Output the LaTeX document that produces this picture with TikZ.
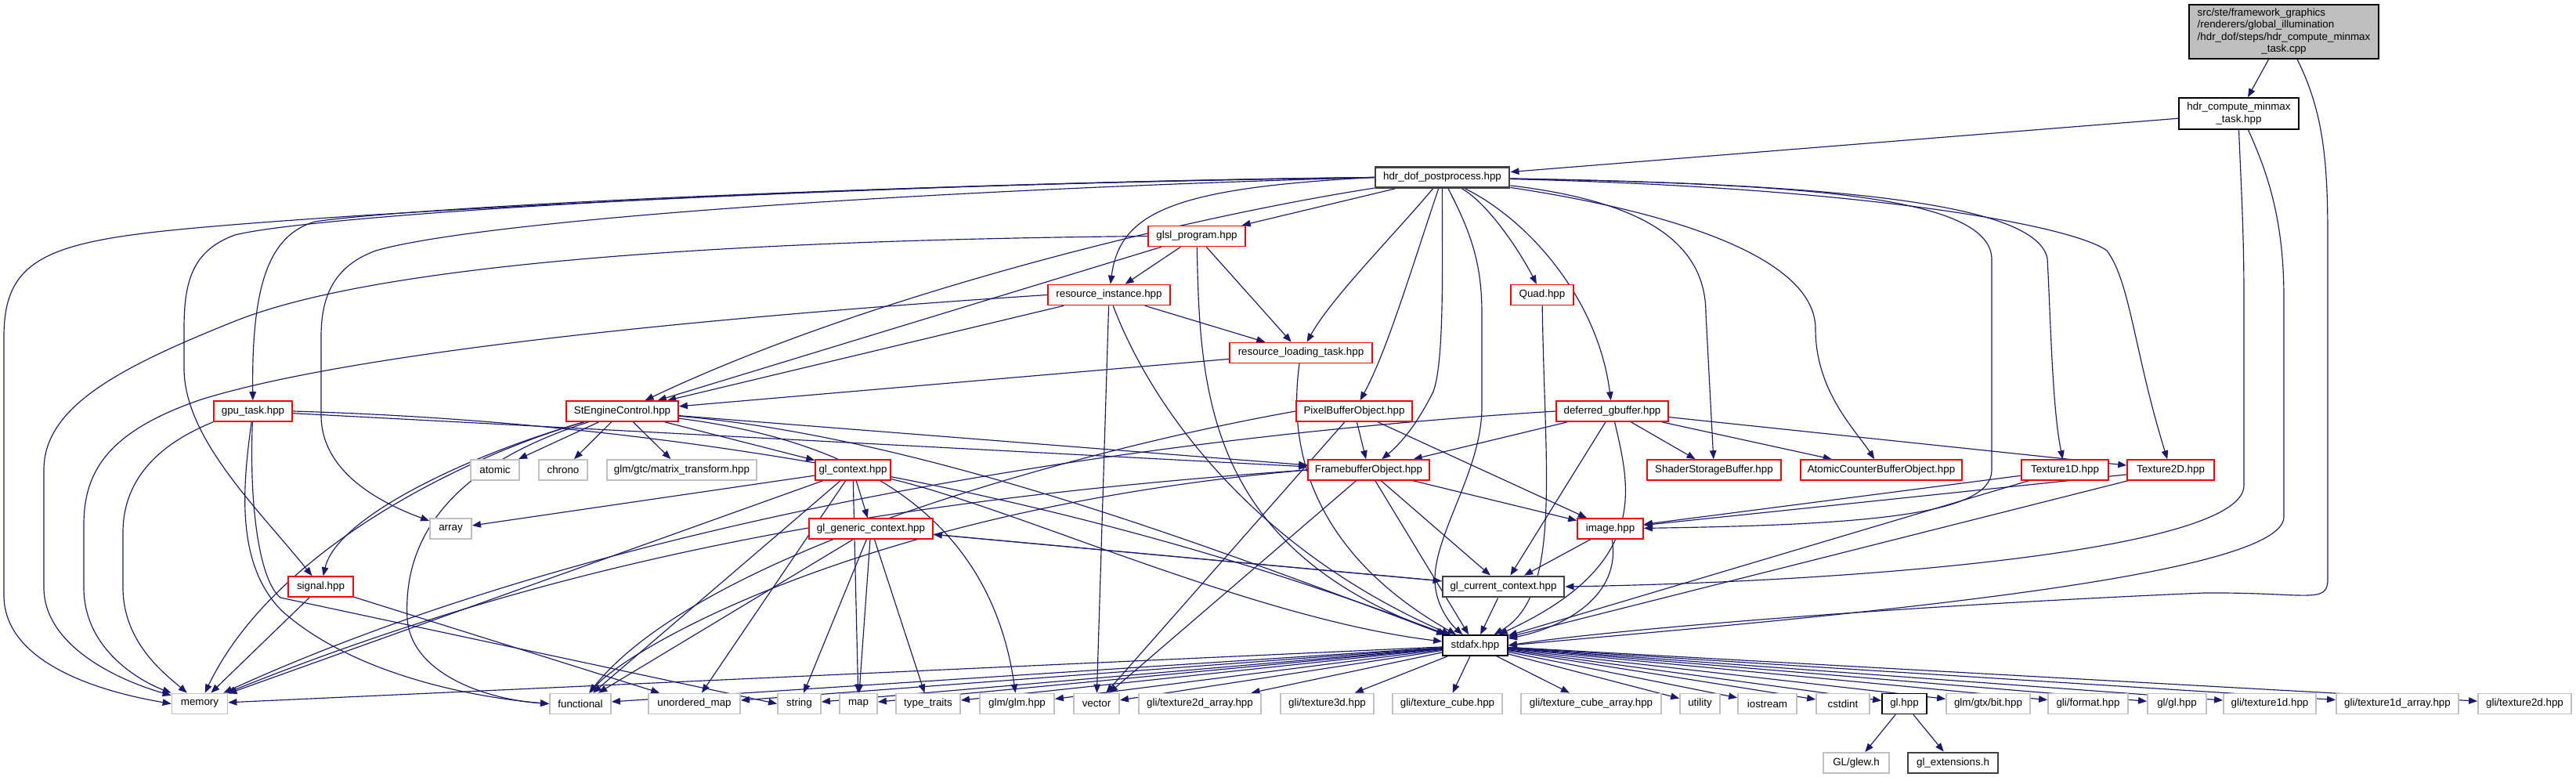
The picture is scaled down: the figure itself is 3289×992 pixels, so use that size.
\documentclass[tikz,border=0pt]{standalone}
\usepackage{fontspec}
\setmainfont{Liberation Sans}
\usetikzlibrary{arrows.meta}
\definecolor{edgeblue}{RGB}{25,25,112}
\definecolor{sysgray}{RGB}{191,191,191}
\definecolor{truncred}{RGB}{255,0,0}
\pgfdeclarelayer{background}
\pgfsetlayers{background,main}

\begin{document}
\begin{tikzpicture}[x=0.01cm, y=-0.01cm,
    every node/.style={rectangle, inner sep=0pt, minimum height=0.26cm,
        font=\fontsize{3.8}{4.3}\selectfont},
    rootbox/.style={draw=black, fill=sysgray, line width=0.4pt},
    redbox/.style={draw=truncred, fill=white, line width=0.45pt},
    graybox/.style={draw=sysgray, fill=white, line width=0.5pt},
    blackbox/.style={draw=black, fill=white, line width=0.5pt},
    darkbox/.style={draw=black!75, fill=white, line width=0.8pt},
    edge/.style={draw=edgeblue, line width=0.33pt,
        -{Triangle[length=0.11cm, width=0.085cm]}}]
    \useasboundingbox (0,0) rectangle (3289,992);

    % --- Top: the source file and its header ---
    \node[rootbox, minimum width=2.42cm, minimum height=0.69cm] (root) at (2916,40.5)
        {\begin{tabular}{@{}l@{}}src/ste/framework\_graphics\\/renderers/global\_illumination\\/hdr\_dof/steps/hdr\_compute\_minmax\\\multicolumn{1}{@{}c@{}}{\_task.cpp}\end{tabular}};
    \node[blackbox, minimum width=1.53cm, minimum height=0.40cm, align=center] (hdc) at (2858.5,145)
        {hdr\_compute\_minmax\\\_task.hpp};
    \node[darkbox, minimum width=1.71cm] (hdd) at (1841.5,226.5) {hdr\_dof\_postprocess.hpp};

    % --- Middle layers ---
    \node[redbox, minimum width=1.24cm] (gls) at (1528,301.5) {glsl\_program.hpp};
    \node[redbox, minimum width=1.56cm] (rin) at (1416,376.5) {resource\_instance.hpp};
    \node[redbox, minimum width=0.80cm] (qd) at (1969,376.5) {Quad.hpp};
    \node[redbox, minimum width=1.82cm] (rlt) at (1661,450.5) {resource\_loading\_task.hpp};
    \node[redbox, minimum width=1.00cm] (gpu) at (323,525) {gpu\_task.hpp};
    \node[redbox, minimum width=1.43cm] (sec) at (794.5,525) {StEngineControl.hpp};
    \node[redbox, minimum width=1.48cm] (pbo) at (1729,525) {PixelBufferObject.hpp};
    \node[redbox, minimum width=1.43cm] (dgb) at (2058.5,525) {deferred\_gbuffer.hpp};
    \node[graybox, minimum width=0.62cm] (atm) at (632,600) {atomic};
    \node[graybox, minimum width=0.62cm] (chr) at (719,600) {chrono};
    \node[graybox, minimum width=1.91cm] (gtc) at (870.5,600) {glm/gtc/matrix\_transform.hpp};
    \node[redbox, minimum width=0.96cm] (glx) at (1089,600) {gl\_context.hpp};
    \node[redbox, minimum width=1.55cm] (fbo) at (1747.5,600) {FramebufferObject.hpp};
    \node[redbox, minimum width=1.71cm] (ssb) at (2188.5,600) {ShaderStorageBuffer.hpp};
    \node[redbox, minimum width=2.06cm] (acb) at (2402,600) {AtomicCounterBufferObject.hpp};
    \node[redbox, minimum width=1.11cm] (t1d) at (2636.5,600) {Texture1D.hpp};
    \node[redbox, minimum width=1.11cm] (t2d) at (2771.5,600) {Texture2D.hpp};
    \node[graybox, minimum width=0.53cm] (arr) at (575.5,675) {array};
    \node[redbox, minimum width=1.58cm] (ggc) at (1112,675) {gl\_generic\_context.hpp};
    \node[redbox, minimum width=0.84cm] (img) at (2056,675) {image.hpp};
    \node[redbox, minimum width=0.83cm] (sig) at (409.5,749) {signal.hpp};
    \node[darkbox, minimum width=1.55cm] (gcc) at (1919.5,749) {gl\_current\_context.hpp};
    \node[blackbox, minimum width=0.83cm] (sdx) at (1883.5,824) {stdafx.hpp};

    % --- Bottom row: headers included by stdafx ---
    \foreach \nm/\cx/\bw/\txt in {mem/255/0.71/memory, fun/741/0.78/functional,
        umap/886.5/1.17/unordered\_map, strg/1020.5/0.55/string, mapx/1096/0.48/map,
        tt/1185/0.82/type\_traits, glmh/1298.5/0.95/{glm/glm.hpp}, vec/1400/0.58/vector,
        t2da/1532/1.56/{gli/texture2d\_array.hpp}, t3d/1694.5/1.19/{gli/texture3d.hpp},
        tcube/1848/1.40/{gli/texture\_cube.hpp}, tcubea/2031.5/1.79/{gli/texture\_cube\_array.hpp},
        util/2170.5/0.51/utility, ios/2256.5/0.75/iostream, cint/2353/0.68/cstdint,
        gtxbit/2538.5/1.07/{glm/gtx/bit.hpp}, fmt/2666/1.02/{gli/format.hpp},
        glgl/2779.5/0.75/{gl/gl.hpp}, t1dx/2898/1.18/{gli/texture1d.hpp},
        t1da/3061/1.56/{gli/texture1d\_array.hpp}, t2dx/3223.5/1.19/{gli/texture2d.hpp}}
        \node[graybox, minimum width=\bw cm] (\nm) at (\cx,898.5) {\txt};
    \node[blackbox, minimum width=0.57cm] (glh) at (2431.5,898.5) {gl.hpp};
    \node[graybox, minimum width=0.84cm] (glew) at (2370,974) {GL/glew.h};
    \node[darkbox, minimum width=1.15cm] (glext) at (2493.5,974) {gl\_extensions.h};

    \begin{pgfonlayer}{background}
    % --- Edges from the top ---
    \draw[edge] (root) -- (hdc);
    \draw[edge] ([xshift=0.17cm]root.south) .. controls (2965,140) and (2972,200) .. (2972,300)
        -- (2972,740) .. controls (2972,772) and (2945,756) .. (2814,757) .. controls (2400,775) and (2050,805) .. (sdx.east);
    \draw[edge] (hdc) -- (hdd);
    \draw[edge] (hdc.south) .. controls (2862,250) and (2865,300) .. (2865,380)
        -- (2865,620) .. controls (2865,700) and (2400,742) .. (gcc.east);
    \draw[edge] ([xshift=0.12cm]hdc.south) .. controls (2895,220) and (2916,280) .. (2916,380)
        -- (2916,660) .. controls (2916,740) and (2300,790) .. (sdx.east);

    % --- hdr_dof_postprocess.hpp ---
    \draw[edge] (hdd.west) .. controls (1200,232) and (500,268) .. (250,291) .. controls (60,308) and (5,330) .. (5,430)
        -- (5,760) .. controls (5,840) and (110,880) .. (mem.west);
    \draw[edge] (hdd.west) .. controls (1000,238) and (500,268) .. (402,283) .. controls (345,300) and (321,360) .. (gpu);
    \draw[edge] (hdd.west) .. controls (1000,236) and (400,275) .. (300,300) .. controls (245,320) and (235,360) .. (235,420)
        -- (235,470) .. controls (235,560) and (330,650) .. (sig);
    \draw[edge] (hdd.west) .. controls (1100,245) and (600,285) .. (480,320) .. controls (425,340) and (410,380) .. (410,430)
        -- (410,530) .. controls (410,600) and (480,640) .. (arr);
    \draw[edge] (hdd) .. controls (1500,280) and (1100,380) .. (sec);
    \draw[edge] (hdd) -- (gls);
    \draw[edge] (hdd.west) .. controls (1500,240) and (1430,270) .. (rin);
    \draw[edge] (hdd) .. controls (1780,300) and (1700,380) .. (rlt);
    \draw[edge] (hdd) .. controls (1800,350) and (1770,450) .. (pbo);
    \draw[edge] (hdd) .. controls (1841,320) and (1845,460) .. (1830,500) .. controls (1810,540) and (1790,565) .. (fbo);
    \draw[edge] (hdd) .. controls (1880,300) and (1892,340) .. (1892,400) -- (1892,520)
        .. controls (1892,600) and (1832,680) .. (1832,740) .. controls (1832,770) and (1850,795) .. (sdx);
    \draw[edge] (hdd) .. controls (1900,260) and (1940,320) .. (qd);
    \draw[edge] (hdd) .. controls (1950,280) and (2040,380) .. (dgb);
    \draw[edge] (hdd) .. controls (2080,255) and (2178,300) .. (2178,400) -- (ssb);
    \draw[edge] (hdd) .. controls (2100,265) and (2318,320) .. (2318,420) .. controls (2318,500) and (2370,550) .. (acb);
    \draw[edge] (hdd) .. controls (2300,235) and (2540,250) .. (2543,330) -- (2543,600)
        .. controls (2543,655) and (2400,670) .. (img);
    \draw[edge] (hdd) .. controls (2350,235) and (2600,260) .. (2614,330) .. controls (2618,400) and (2620,520) .. (t1d);
    \draw[edge] (hdd) .. controls (2400,240) and (2650,290) .. (2690,320) .. controls (2720,360) and (2725,450) .. (t2d);

    % --- glsl, resources ---
    \draw[edge] (gls.west) .. controls (1000,306) and (500,330) .. (300,410) .. controls (150,470) and (56,520) .. (56,600)
        -- (56,750) .. controls (56,820) and (140,865) .. (mem);
    \draw[edge] (gls) -- (sec);
    \draw[edge] (gls) -- (rin);
    \draw[edge] (gls) -- (rlt);
    \draw[edge] (gls) .. controls (1532,500) and (1540,700) .. (sdx);
    \draw[edge] (rin.west) .. controls (900,405) and (450,450) .. (257,510) .. controls (140,550) and (107,600) .. (107,670)
        -- (107,750) .. controls (107,830) and (180,870) .. (mem);
    \draw[edge] (rin) -- (sec);
    \draw[edge] (rin) -- (rlt);
    \draw[edge] (rin) -- (vec);
    \draw[edge] (rin) .. controls (1470,520) and (1600,700) .. (sdx);
    \draw[edge] (rlt) -- (sec);
    \draw[edge] (rlt) .. controls (1640,600) and (1700,720) .. (sdx);

    % --- gpu_task, StEngineControl ---
    \draw[edge] (gpu.south west) .. controls (220,560) and (157,600) .. (157,680) -- (157,750)
        .. controls (157,820) and (210,860) .. (mem);
    \draw[edge] (gpu) .. controls (310,620) and (300,720) .. (360,780) .. controls (450,860) and (600,890) .. (fun.west);
    \draw[edge] (gpu) .. controls (318,640) and (330,740) .. (358,763) -- (strg.west);
    \draw[edge] (gpu) -- (fbo);
    \draw[edge] (gpu.east) .. controls (900,540) and (1400,640) .. (sdx);
    \draw[edge] (sec) -- (atm);
    \draw[edge] (sec) -- (chr);
    \draw[edge] (sec) -- (gtc);
    \draw[edge] (sec) -- (glx);
    \draw[edge] (sec) -- (fbo);
    \draw[edge] (sec) .. controls (600,580) and (430,660) .. (sig);
    \draw[edge] (sec) .. controls (600,580) and (350,700) .. (mem);
    \draw[edge] (sec) .. controls (560,600) and (515,700) .. (520,790) .. controls (525,860) and (620,893) .. (fun.west);
    \draw[edge] (sec) .. controls (1150,570) and (1270,700) .. (glmh);
    \draw[edge] (sec) .. controls (1200,560) and (1600,720) .. (sdx);

    % --- buffers and textures ---
    \draw[edge] (pbo) -- (fbo);
    \draw[edge] (pbo) -- (img);
    \draw[edge] (pbo) -- (vec);
    \draw[edge] (pbo.west) .. controls (1400,570) and (900,700) .. (fun);
    \draw[edge] (dgb) -- (fbo);
    \draw[edge] (dgb) -- (ssb);
    \draw[edge] (dgb) -- (acb);
    \draw[edge] (dgb) -- (t2d);
    \draw[edge] (dgb) -- (gcc);
    \draw[edge] (dgb) .. controls (2080,620) and (2110,720) .. (sdx);
    \draw[edge] (dgb.west) .. controls (1500,555) and (800,650) .. (mem);
    \draw[edge] (fbo) -- (img);
    \draw[edge] (fbo) -- (gcc);
    \draw[edge] (fbo) -- (sdx);
    \draw[edge] (fbo) -- (vec);
    \draw[edge] (fbo.west) .. controls (1100,640) and (700,720) .. (mem);
    \draw[edge] (fbo.west) .. controls (1100,650) and (800,830) .. (fun);
    \draw[edge] (t1d) -- (img);
    \draw[edge] (t1d) -- (sdx);
    \draw[edge] (t2d) -- (img);
    \draw[edge] (t2d) -- (sdx);
    \draw[edge] (img) -- (gcc);
    \draw[edge] (img) .. controls (2070,760) and (2000,800) .. (sdx);
    \draw[edge] (qd) .. controls (1972,600) and (1995,760) .. (sdx);

    % --- gl contexts, signal ---
    \draw[edge] (glx) -- (arr);
    \draw[edge] (glx) -- (ggc);
    \draw[edge] (glx) -- (mem);
    \draw[edge] (glx) -- (fun);
    \draw[edge] (glx) -- (umap);
    \draw[edge] (glx) -- (mapx);
    \draw[edge] (glx) .. controls (1300,650) and (1600,790) .. (sdx);
    \draw[edge] (ggc) -- (gcc);
    \draw[edge] (gcc) -- (ggc);
    \draw[edge] (ggc) -- (fun);
    \draw[edge] (ggc) -- (strg);
    \draw[edge] (ggc) -- (mapx);
    \draw[edge] (ggc) -- (tt);
    \draw[edge] (gcc) -- (sdx);
    \draw[edge] (sig) -- (mem);
    \draw[edge] (sig) -- (umap);

    % --- stdafx.hpp to the bottom row ---
    \foreach \t in {mem,fun,umap,strg,mapx,tt,glmh,vec,t2da,t3d,tcube,tcubea,
        util,ios,cint,glh,gtxbit,fmt,glgl,t1dx,t1da,t2dx}
        \draw[edge] (sdx) -- (\t);
    \draw[edge] (glh) -- (glew);
    \draw[edge] (glh) -- (glext);
    \end{pgfonlayer}
\end{tikzpicture}
\end{document}
